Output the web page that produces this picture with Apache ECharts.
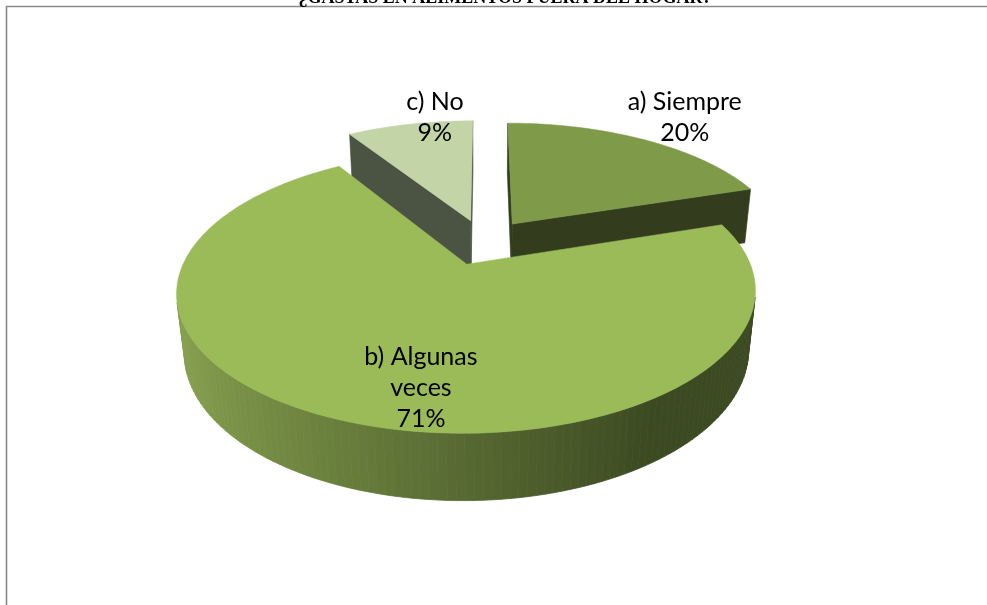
<!DOCTYPE html>
<html>
<head>
<meta charset="utf-8">
<script src="https://cdn.jsdelivr.net/npm/echarts@6/dist/echarts.min.js"></script>
<style>
  html, body { margin: 0; padding: 0; background: #fff; }
  #main { width: 987px; height: 605px; }
</style>
</head>
<body>
<div id="main"></div>
<script>
// datos de la encuesta
var titleText = '¿GASTAS EN ALIMENTOS FUERA DEL HOGAR?';
var categories = ['a) Siempre', 'b) Algunas\nveces', 'c) No'];
var values = [20, 71, 9];
var percentLabels = ['20%', '71%', '9%'];

// colores por rebanada: cara superior / cara lateral
var topColors = ['#7f9a48', '#9bbb59', '#c3d5a6'];
var sideColors = ['#333d1e', null, '#4b5343'];

// proyeccion 3D simple (perspectiva)
var cx = 484, cy = 242, F = 1262, D = 4.6;
var alpha = 27.5 * Math.PI / 180;
var sa = Math.sin(alpha), ca = Math.cos(alpha);
var depth = 0.24, explode = 0.18;
// radio del ancla de etiqueta y desplazamiento (px)
var labelR = [1, 0.5, 1];
var labelShift = [[40, -22], [9, 53], [25, -7]];

function proj(X, Y, Z) {
  var z = D - Y * ca - Z * sa;
  return [cx + F * X / z, cy + F * (Y * sa - Z * ca) / z];
}

var total = values.reduce(function (s, v) { return s + v; }, 0);
var starts = [], ends = [], acc = 0;
values.forEach(function (v) {
  starts.push(acc / total * 2 * Math.PI);
  acc += v;
  ends.push(acc / total * 2 * Math.PI);
});

// orden de pintado: de atras hacia adelante
var order = values.map(function (v, i) { return i; }).sort(function (a, b) {
  var ma = (starts[a] + ends[a]) / 2, mb = (starts[b] + ends[b]) / 2;
  return -Math.cos(ma) + Math.cos(mb);
});
var rank = [];
order.forEach(function (idx, r) { rank[idx] = r; });

function lerpColor(c1, c2, t) {
  var r = Math.round(c1[0] + (c2[0] - c1[0]) * t);
  var g = Math.round(c1[1] + (c2[1] - c1[1]) * t);
  var b = Math.round(c1[2] + (c2[2] - c1[2]) * t);
  return 'rgb(' + r + ',' + g + ',' + b + ')';
}

function visible(n, P) {
  var vx = 0 - P[0], vy = D * ca - P[1], vz = D * sa - P[2];
  return n[0] * vx + n[1] * vy + n[2] * vz > 0;
}

function renderItem(params, api) {
  var i = params.dataIndex;
  var t0 = starts[i], t1 = ends[i], tm = (t0 + t1) / 2;
  var ox = explode * Math.sin(tm), oy = -explode * Math.cos(tm);
  var base = rank[i] * 1000;
  var children = [];

  function arcPt(t, Z) { return proj(Math.sin(t) + ox, -Math.cos(t) + oy, Z); }
  function sideFill(t) {
    if (sideColors[i]) return sideColors[i];
    var k = Math.max(0, Math.min(1, (0.55 - Math.sin(t)) / 1.5));
    return lerpColor([60, 74, 34], [134, 160, 78], k);
  }

  // caras radiales
  [[t0, -1], [t1, 1]].forEach(function (e) {
    var t = e[0];
    var n = [e[1] * Math.cos(t), e[1] * Math.sin(t), 0];
    var P = [ox + Math.sin(t) / 2, oy - Math.cos(t) / 2, -depth / 2];
    if (!visible(n, P)) return;
    var col = sideFill(t);
    children.push({
      type: 'polygon', z2: base + 1,
      shape: { points: [proj(ox, oy, 0), arcPt(t, 0), arcPt(t, -depth), proj(ox, oy, -depth)] },
      style: { fill: col, stroke: col, lineWidth: 0.6 }
    });
  });

  // cara lateral curva
  var steps = Math.max(8, Math.ceil((t1 - t0) / (Math.PI / 120)));
  for (var k = 0; k < steps; k++) {
    var a = t0 + (t1 - t0) * k / steps, b = t0 + (t1 - t0) * (k + 1) / steps, m = (a + b) / 2;
    var n = [Math.sin(m), -Math.cos(m), 0];
    var P = [Math.sin(m) + ox, -Math.cos(m) + oy, -depth / 2];
    if (!visible(n, P)) continue;
    var col = sideFill(m);
    children.push({
      type: 'polygon', z2: base + 2,
      shape: { points: [arcPt(a, 0), arcPt(b, 0), arcPt(b, -depth), arcPt(a, -depth)] },
      style: { fill: col, stroke: col, lineWidth: 0.8 }
    });
  }

  // cara superior
  var pts = [proj(ox, oy, 0)];
  for (var s = 0; s <= steps; s++) pts.push(arcPt(t0 + (t1 - t0) * s / steps, 0));
  children.push({
    type: 'polygon', z2: base + 3,
    shape: { points: pts },
    style: { fill: topColors[i], stroke: topColors[i], lineWidth: 0.5 }
  });

  // etiqueta
  var r = labelR[i];
  var lp = proj(r * Math.sin(tm) + ox, -r * Math.cos(tm) + oy, 0);
  children.push({
    type: 'text', z2: 5000,
    x: lp[0] + labelShift[i][0], y: lp[1] + labelShift[i][1],
    style: {
      text: categories[i] + '\n' + percentLabels[i],
      fill: '#000', fontSize: 25, fontFamily: 'Lato', lineHeight: 31,
      align: 'center', verticalAlign: 'middle',
      textAlign: 'center', textVerticalAlign: 'middle'
    }
  });

  return { type: 'group', children: children };
}

var chart = echarts.init(document.getElementById('main'), null, { renderer: 'canvas' });
chart.setOption({
  backgroundColor: '#fff',
  animation: false,
  graphic: [
    {
      type: 'rect', z: 0,
      shape: { x: 6.5, y: 6.5, width: 1100, height: 700 },
      style: { fill: '#fff', stroke: '#8a8a8a', lineWidth: 1.6 }
    },
    {
      type: 'text', z: 10, x: 505, y: 7,
      style: {
        text: titleText, fill: '#000',
        font: 'bold 18px "Liberation Serif", "Times New Roman", serif',
        align: 'center', verticalAlign: 'bottom',
        textAlign: 'center', textVerticalAlign: 'bottom'
      }
    }
  ],
  series: [{
    type: 'custom',
    coordinateSystem: 'none',
    z: 5,
    renderItem: renderItem,
    data: values.map(function (v, i) { return [v, i]; })
  }]
});
</script>
</body>
</html>
